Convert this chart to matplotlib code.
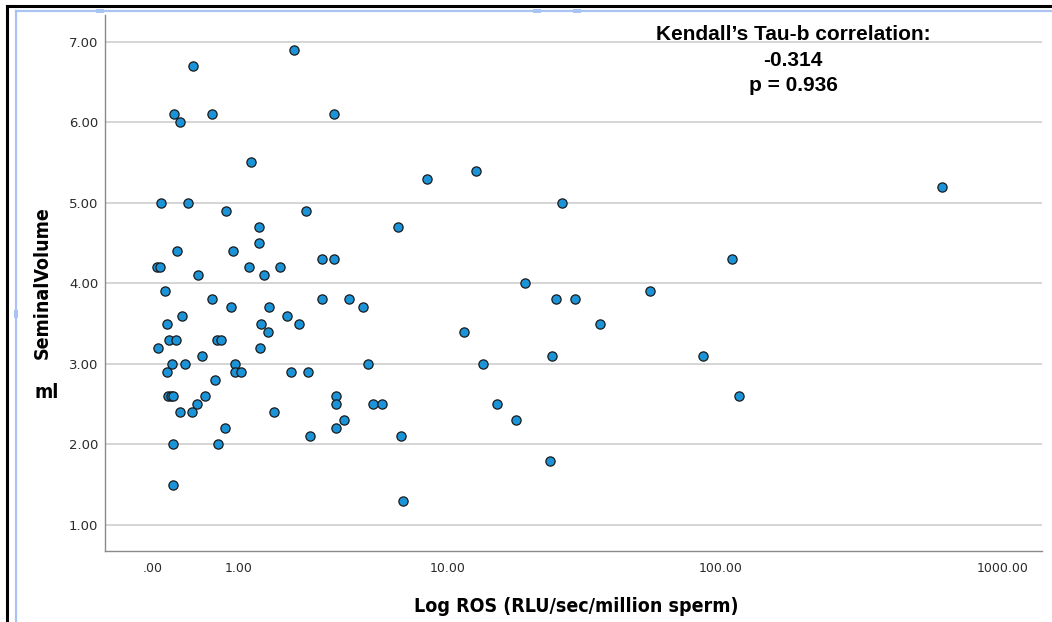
"""Scatter of seminal volume against ROS level (log scale) with Kendall's tau-b."""
import matplotlib
matplotlib.use("Agg")
import matplotlib.pyplot as plt
import numpy as np
from matplotlib import font_manager
from matplotlib.lines import Line2D
from matplotlib.patches import Rectangle

# ROS (RLU/sec/million sperm) and seminal volume (ml), one entry per sample
ros = [
    2.15, 0.388, 0.19, 0.615, 3.35, 0.245, 1.22, 12.8, 8.3, 609.0,
    0.067, 0.333, 26.8, 0.815, 2.47, 1.37, 6.34, 1.37, 0.218, 0.916,
    2.96, 3.36, 110.0, 0.035, 0.059, 1.18, 1.81, 0.442, 1.46, 19.6,
    0.102, 55.6, 0.611, 2.96, 3.93, 25.4, 29.8, 0.884, 1.56, 4.53,
    0.268, 1.97, 0.120, 1.40, 2.28, 36.9, 1.55, 11.5, 0.135, 0.208,
    0.678, 0.734, 0.042, 1.39, 0.489, 24.7, 86.4, 0.17, 0.30, 0.953,
    4.75, 13.6, 0.117, 0.953, 1.05, 2.07, 2.52, 0.655, 0.127, 0.154,
    0.18, 0.527, 3.43, 116.0, 0.433, 3.43, 4.96, 5.45, 15.4, 0.245,
    0.377, 1.67, 3.73, 18.1, 0.80, 3.43, 2.59, 6.5, 0.18, 0.695,
    24.1, 0.18, 6.61,
]
volume = [
    6.9, 6.7, 6.1, 6.1, 6.1, 6.0, 5.5, 5.4, 5.3, 5.2,
    5.0, 5.0, 5.0, 4.9, 4.9, 4.7, 4.7, 4.5, 4.4, 4.4,
    4.3, 4.3, 4.3, 4.2, 4.2, 4.2, 4.2, 4.1, 4.1, 4.0,
    3.9, 3.9, 3.8, 3.8, 3.8, 3.8, 3.8, 3.7, 3.7, 3.7,
    3.6, 3.6, 3.5, 3.5, 3.5, 3.5, 3.4, 3.4, 3.3, 3.3,
    3.3, 3.3, 3.2, 3.2, 3.1, 3.1, 3.1, 3.0, 3.0, 3.0,
    3.0, 3.0, 2.9, 2.9, 2.9, 2.9, 2.9, 2.8, 2.6, 2.6,
    2.6, 2.6, 2.6, 2.6, 2.5, 2.5, 2.5, 2.5, 2.5, 2.4,
    2.4, 2.4, 2.3, 2.3, 2.2, 2.2, 2.1, 2.1, 2.0, 2.0,
    1.8, 1.5, 1.3,
]

x_ticks = [0, 1, 10, 100, 1000]
x_tick_labels = [".00", "1.00", "10.00", "100.00", "1000.00"]
y_ticks = [1, 2, 3, 4, 5, 6, 7]
y_tick_labels = [f"{v:.2f}" for v in y_ticks]

tau_b = -0.314
p_value = 0.936

W, H = 1052, 622
ARIAL = ["Liberation Sans", "DejaVu Sans"]


def title_font():
    """Narrow bold face for the axis titles, whichever is installed."""
    fonts = font_manager.fontManager.ttflist
    names = {f.name for f in fonts}
    if "Liberation Sans Narrow" in names:
        return dict(family="Liberation Sans Narrow", fontsize=15)
    if any(f.name == "DejaVu Sans" and f.stretch == "condensed" for f in fonts):
        return dict(family="DejaVu Sans", fontstretch="condensed", fontsize=14)
    return dict(family="Roboto", fontsize=13.5)


def fwd(x):
    x = np.asarray(x, dtype=float)
    with np.errstate(invalid="ignore", divide="ignore"):
        return np.log10(np.clip(x + 1, 1e-9, None))


def inv(u):
    return 10 ** np.asarray(u, dtype=float) - 1


def px(x, y):
    """Pixel position -> figure fraction."""
    return x / W, 1 - y / H


def main():
    fig = plt.figure(figsize=(W / 100, H / 100), dpi=100)
    left, right, top, bottom = 104.5, 1042, 15, 550.8
    ax = fig.add_axes([left / W, 1 - bottom / H, (right - left) / W, (bottom - top) / H])

    ax.set_xscale("function", functions=(fwd, inv))
    ax.set_xlim(inv(-0.171), inv(3.138))
    ax.set_ylim(0.68, 7.33)

    ax.yaxis.grid(True, color="#d2d2d2", linewidth=1.3, zorder=0)
    ax.set_axisbelow(True)
    ax.scatter(ros, volume, s=44, color="#1b93d8", edgecolors="#1a1a1a",
               linewidths=0.9, zorder=3)

    ax.set_xticks(x_ticks)
    ax.set_xticklabels(x_tick_labels)
    ax.set_yticks(y_ticks)
    ax.set_yticklabels(y_tick_labels)
    ax.minorticks_off()
    ax.tick_params(axis="x", length=0, pad=8, labelsize=9, colors="#2a2a2a")
    ax.tick_params(axis="y", length=0, pad=4.5, labelsize=9.5, colors="#2a2a2a")

    for side in ("top", "right"):
        ax.spines[side].set_visible(False)
    for side in ("left", "bottom"):
        ax.spines[side].set_color("#8a8a8a")
        ax.spines[side].set_linewidth(1.0)

    # axis titles
    tf = title_font()
    fig.text(*px(42, 283), "SeminalVolume", rotation=90, ha="center", va="center",
             fontweight="bold", **tf)
    fig.text(*px(47, 392), "ml", ha="center", va="center", fontweight="bold", **tf)
    fig.text(*px(576, 607), "Log ROS (RLU/sec/million sperm)", ha="center", va="center",
             fontweight="bold", **tf)

    fig.text(*px(793, 60),
             f"Kendall\u2019s Tau-b correlation:\n{tau_b:.3f}\np = {p_value:.3f}",
             ha="center", va="center", fontsize=15, fontweight="bold",
             family=ARIAL, linespacing=1.45)

    # window frame around the chart
    frame = dict(transform=fig.transFigure, color="black", linewidth=2.2)
    fig.add_artist(Line2D([7 / W, 7 / W], [0, 1 - 6 / H], **frame))
    fig.add_artist(Line2D([7 / W, 1], [1 - 6 / H, 1 - 6 / H], **frame))
    sel = dict(transform=fig.transFigure, color="#a9c3f2", linewidth=1.6)
    fig.add_artist(Line2D([16 / W, 16 / W], [0, 1 - 11 / H], **sel))
    fig.add_artist(Line2D([16 / W, 1], [1 - 11 / H, 1 - 11 / H], **sel))
    for hx, hy, hw, hh in [(96, 9, 8, 4), (533, 9, 8, 4), (573, 9, 8, 4), (14, 310, 4, 8)]:
        fig.add_artist(Rectangle(px(hx, hy + hh), hw / W, hh / H,
                                 transform=fig.transFigure, color="#a9c3f2", lw=0))

    fig.savefig("out.png", dpi=100)


if __name__ == "__main__":
    main()
